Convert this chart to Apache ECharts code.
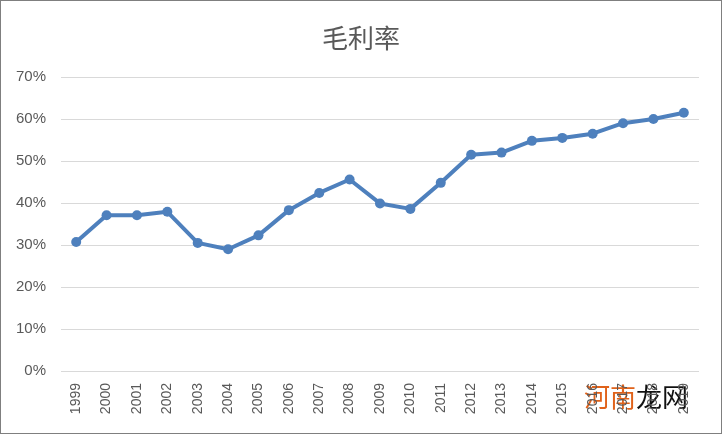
<!DOCTYPE html>
<html><head><meta charset="utf-8">
<script src="https://cdn.jsdelivr.net/npm/echarts@6/dist/echarts.min.js"></script>
<style>html,body{margin:0;padding:0;background:#fff}#c{width:722px;height:434px;box-sizing:border-box;border:1px solid #7f7f7f}</style>
</head><body><div id="c"></div>
<script>
const years = ['1999','2000','2001','2002','2003','2004','2005','2006','2007','2008','2009','2010','2011','2012','2013','2014','2015','2016','2017','2018','2019'];
const grossMargin = [30.7,37.1,37.1,37.9,30.5,29.0,32.3,38.3,42.4,45.6,39.9,38.6,44.8,51.5,52.0,54.8,55.5,56.5,59.0,60.0,61.5];
const chart = echarts.init(document.getElementById('c'));
chart.setOption({
  animation:false,
  title:{text:'毛利率',left:'center',top:19,textStyle:{color:'#595959',fontSize:26,fontWeight:'normal',fontFamily:'Noto Sans CJK SC'}},
  grid:{left:60,right:22,top:76,bottom:62},
  xAxis:{type:'category',data:years,boundaryGap:true,
    axisLine:{show:false},axisTick:{show:false},
    axisLabel:{rotate:90,color:'#595959',fontSize:14,fontFamily:'Liberation Sans',margin:12,interval:0}},
  yAxis:{type:'value',min:0,max:70,interval:10,
    axisLabel:{formatter:'{value}%',color:'#595959',fontSize:15,fontFamily:'Liberation Sans',margin:15},
    splitLine:{lineStyle:{color:'#d9d9d9',width:1}},axisLine:{show:false},axisTick:{show:false}},
  series:[{type:'line',data:grossMargin,symbol:'circle',symbolSize:10,
    lineStyle:{color:'#4e80bd',width:4},itemStyle:{color:'#4e80bd'}}],
  graphic:[{type:'text',left:583,top:383,style:{text:'河南',fill:'#e0621a',fontSize:26,fontFamily:'Noto Sans CJK SC'}},
           {type:'text',left:635,top:383,style:{text:'龙网',fill:'#111',fontSize:26,fontFamily:'Noto Sans CJK SC'}}]
});
</script></body></html>
